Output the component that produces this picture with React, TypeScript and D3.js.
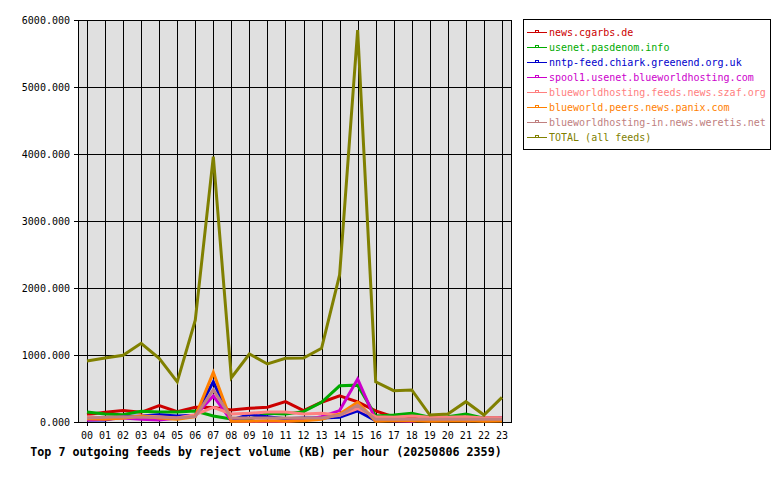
import React from "react";
import * as d3 from "d3";

const hours = ["00","01","02","03","04","05","06","07","08","09","10","11","12","13","14","15","16","17","18","19","20","21","22","23"];
const yTicks = [0, 1000, 2000, 3000, 4000, 5000, 6000];

const feedNames = [
  "news.cgarbs.de",
  "usenet.pasdenom.info",
  "nntp-feed.chiark.greenend.org.uk",
  "spool1.usenet.blueworldhosting.com",
  "blueworldhosting.feeds.news.szaf.org",
  "blueworld.peers.news.panix.com",
  "blueworldhosting-in.news.weretis.net",
  "TOTAL (all feeds)",
];
const feedColors = ["#cc0000", "#00aa00", "#0000cc", "#cc00cc", "#ff8080", "#ff8000", "#c08080", "#808000"];

const cgarbs = [110, 145, 170, 145, 245, 155, 220, 215, 180, 205, 220, 305, 170, 295, 390, 300, 165, 75, 60, 80, 50, 50, 60, 60];
const pasdenom = [150, 120, 110, 160, 150, 150, 165, 90, 45, 40, 130, 120, 155, 295, 540, 550, 90, 105, 130, 70, 80, 120, 55, 50];
const chiark = [30, 30, 80, 90, 110, 90, 100, 600, 30, 110, 80, 50, 60, 60, 70, 165, 20, 25, 30, 20, 25, 25, 25, 25];
const spool1 = [30, 40, 60, 40, 30, 60, 100, 390, 20, 10, 10, 10, 30, 80, 170, 640, 30, 20, 10, 50, 30, 20, 30, 60];
const szaf = [80, 60, 60, 90, 80, 60, 110, 220, 120, 130, 150, 150, 120, 130, 100, 200, 80, 70, 90, 70, 70, 80, 60, 60];
const panix = [50, 40, 60, 90, 60, 40, 80, 740, 10, 10, 20, 10, 20, 40, 120, 295, 10, 20, 20, 10, 15, 20, 10, 15];
const weretis = [60, 70, 80, 70, 70, 60, 80, 480, 60, 60, 60, 60, 60, 60, 100, 250, 40, 40, 40, 40, 40, 40, 40, 40];
const total = [910, 955, 995, 1175, 950, 600, 1520, 3960, 660, 1015, 866, 950, 955, 1100, 2195, 5850, 600, 467, 478, 104, 119, 303, 104, 368];

const seriesValues = [cgarbs, pasdenom, chiark, spool1, szaf, panix, weretis, total];

const FONT = "'DejaVu Sans Mono', 'Liberation Mono', monospace";

export default function App() {
  const left = 78, right = 511, top = 20, bottom = 422;
  const x = d3.scaleBand<string>().domain(hours).range([left, right]);
  const y = d3.scaleLinear().domain([0, 6000]).range([bottom, top]);
  const cx = (h: string) => (x(h) as number) + x.bandwidth() / 2;
  const line = d3.line<number>().x((_, i) => cx(hours[i])).y((v) => y(v));

  return (
    <svg width={780} height={480} style={{ position: "absolute", left: 0, top: 0 }}>
      <rect x={0} y={0} width={780} height={480} fill="#ffffff" />
      <rect x={left} y={top} width={right - left} height={bottom - top} fill="#e0e0e0" />
      {hours.map((h) => (
        <line key={"gx" + h} x1={Math.round(cx(h)) + 0.5} x2={Math.round(cx(h)) + 0.5} y1={top} y2={bottom + 4} stroke="#000" strokeWidth={1} />
      ))}
      {yTicks.map((t) => (
        <line key={"gy" + t} x1={left - 4} x2={right} y1={Math.round(y(t)) + 0.5} y2={Math.round(y(t)) + 0.5} stroke="#000" strokeWidth={1} />
      ))}
      <rect x={left + 0.5} y={top + 0.5} width={right - left} height={bottom - top} fill="none" stroke="#000" strokeWidth={1} />
      {seriesValues.map((vals, i) => (
        <path key={"s" + i} d={line(vals) || ""} fill="none" stroke={feedColors[i]} strokeWidth={3} strokeLinejoin="miter" />
      ))}
      {yTicks.map((t) => (
        <text key={"yl" + t} x={70} y={Math.round(y(t)) + 4} textAnchor="end" fontFamily={FONT} fontSize={10} fill="#000">
          {t.toFixed(3)}
        </text>
      ))}
      {hours.map((h) => (
        <text key={"xl" + h} x={cx(h)} y={439} textAnchor="middle" fontFamily={FONT} fontSize={10} fill="#000">
          {h}
        </text>
      ))}
      <text x={266} y={456} textAnchor="middle" fontFamily={FONT} fontSize={11.7} fontWeight="bold" fill="#000">
        Top 7 outgoing feeds by reject volume (KB) per hour (20250806 2359)
      </text>
      <rect x={523.5} y={19.5} width={247} height={130} fill="#ffffff" stroke="#000" strokeWidth={1} />
      {feedNames.map((name, i) => {
        const ry = 32 + i * 15;
        return (
          <g key={"lg" + i}>
            <line x1={527} x2={547} y1={ry + 0.5} y2={ry + 0.5} stroke={feedColors[i]} strokeWidth={1} />
            <rect x={535.5} y={ry - 1.5} width={3} height={2} fill="none" stroke={feedColors[i]} strokeWidth={1} />
            <text x={549} y={ry + 4} fontFamily={FONT} fontSize={10} fill={feedColors[i]}>
              {name}
            </text>
          </g>
        );
      })}
    </svg>
  );
}
